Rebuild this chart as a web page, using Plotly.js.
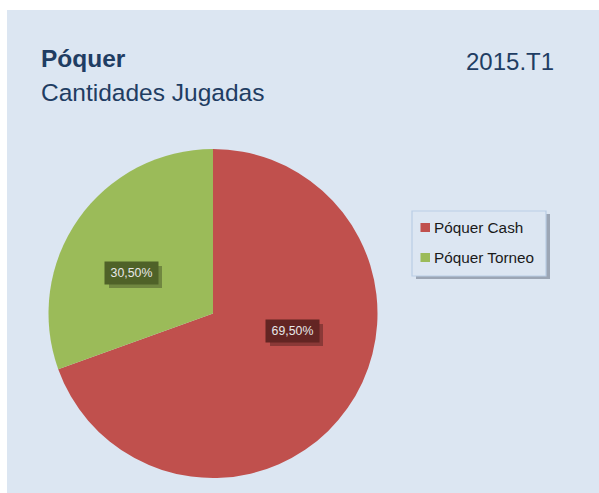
<!DOCTYPE html>
<html>
<head>
<meta charset="utf-8">
<script src="https://cdn.plot.ly/plotly-3.0.1.min.js"></script>
<style>html,body{margin:0;padding:0;background:#fff;}#chart{width:599px;height:493px;}</style>
</head>
<body>
<div id="chart"></div>
<script>
// ---- data ----
const categories = ["Póquer Cash", "Póquer Torneo"];
const shares = [69.5, 30.5];
const labelTexts = ["69,50%", "30,50%"];
const titleMain = "Póquer";
const titleSub = "Cantidades Jugadas";
const period = "2015.T1";

// ---- styles / layout positions (pixels) ----
const W = 599, H = 493;
const FONT = "Liberation Sans, Arial, sans-serif";
const sliceColors = ["#C0504D", "#9BBB59"];
const labelBg = ["#632523", "#4F6228"];
const labelCenters = [[292, 331], [131, 273]];
const legendItemY = [227.5, 257.5];
const px = x => x / W;
const py = y => 1 - y / H;

const shapes = [
  {type: "rect", xref: "paper", yref: "paper", x0: 0, x1: 1, y0: py(10), y1: 1, fillcolor: "#ffffff", line: {width: 0}, layer: "above"},
  {type: "rect", xref: "paper", yref: "paper", x0: 0, x1: px(7), y0: 0, y1: 1, fillcolor: "#ffffff", line: {width: 0}, layer: "above"},
  // legend shadow + box
  {type: "rect", xref: "paper", yref: "paper", x0: px(416), x1: px(550), y0: py(279), y1: py(214), fillcolor: "rgba(60,70,90,0.40)", line: {width: 0}, layer: "above"},
  {type: "rect", xref: "paper", yref: "paper", x0: px(412), x1: px(546), y0: py(276), y1: py(211), fillcolor: "#DCE6F2", line: {width: 1.2, color: "#B9CDE5"}, layer: "above"}
];
const annotations = [];

categories.forEach((c, i) => {
  const y = legendItemY[i];
  shapes.push({type: "rect", xref: "paper", yref: "paper", x0: px(420.5), x1: px(430), y0: py(y + 4.5), y1: py(y - 4.5), fillcolor: sliceColors[i], line: {width: 0}, layer: "above"});
  annotations.push({xref: "paper", yref: "paper", x: px(432), y: py(y), xanchor: "left", yanchor: "middle", showarrow: false,
    text: c, font: {family: FONT, size: 15.3, color: "#1a1a1a"}});
  const [cx, cy] = labelCenters[i];
  shapes.push({type: "rect", xref: "paper", yref: "paper", x0: px(cx - 26 + 4), x1: px(cx + 27 + 4), y0: py(cy + 11 + 4), y1: py(cy - 11 + 4), fillcolor: "rgba(0,0,0,0.28)", line: {width: 0}, layer: "above"});
  annotations.push({xref: "paper", yref: "paper", x: px(cx), y: py(cy), xanchor: "center", yanchor: "middle", showarrow: false,
    text: labelTexts[i], width: 47, height: 16, borderpad: 3, bgcolor: labelBg[i],
    font: {family: FONT, size: 12.3, color: "#E8E8E8"}});
});

annotations.push(
  {xref: "paper", yref: "paper", x: px(39), y: py(58.5), xanchor: "left", yanchor: "middle", showarrow: false,
   text: "<b>" + titleMain + "</b>", font: {family: FONT, size: 24.5, color: "#1F3D63"}},
  {xref: "paper", yref: "paper", x: px(39), y: py(92.5), xanchor: "left", yanchor: "middle", showarrow: false,
   text: titleSub, font: {family: FONT, size: 24.5, color: "#1F3D63"}},
  {xref: "paper", yref: "paper", x: px(464), y: py(62), xanchor: "left", yanchor: "middle", showarrow: false,
   text: period, font: {family: FONT, size: 24, color: "#1F3D63"}}
);

const trace = {
  type: "pie",
  labels: categories,
  values: shares,
  sort: false,
  direction: "clockwise",
  rotation: 0,
  textinfo: "none",
  hoverinfo: "label+percent",
  marker: {colors: sliceColors, line: {width: 0}},
  domain: {x: [px(48), px(378)], y: [py(478), py(149)]}
};

const layout = {
  width: W, height: H,
  margin: {l: 0, r: 0, t: 0, b: 0},
  paper_bgcolor: "#DCE6F2",
  plot_bgcolor: "#DCE6F2",
  showlegend: false,
  shapes: shapes,
  annotations: annotations
};

Plotly.newPlot("chart", [trace], layout, {displayModeBar: false, staticPlot: true});
</script>
</body>
</html>
